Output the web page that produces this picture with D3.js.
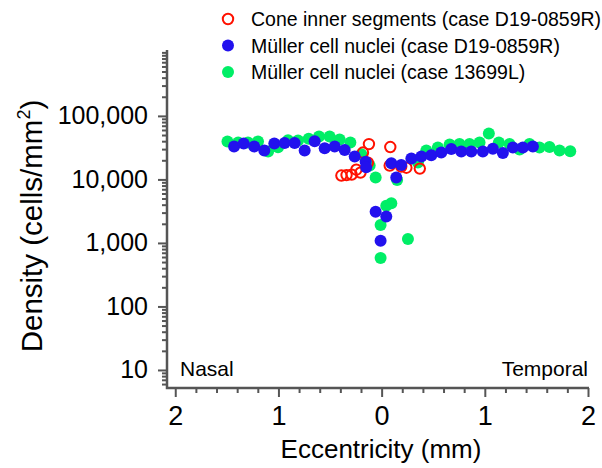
<!DOCTYPE html>
<html><head><meta charset="utf-8">
<script src="https://cdn.jsdelivr.net/npm/d3@7"></script>
<style>body{margin:0;background:#fff}svg{display:block;font-family:"Liberation Sans",Arial,sans-serif}</style>
</head><body>
<svg id="c" width="602" height="468"></svg>
<script>
// Eccentricity (mm): negative = nasal, positive = temporal
const coneEcc = [-0.39,-0.34,-0.29,-0.245,-0.205,-0.181,-0.133,-0.123,0.078,0.084,0.19,0.24,0.37];
const coneDen = [11500,11700,11900,14200,12800,26500,18400,36000,16500,32300,15900,15300,14800];

const mullerDEcc = [-1.43,-1.337,-1.235,-1.137,-1.04,-0.94,-0.843,-0.746,-0.649,-0.552,-0.455,-0.358,-0.261,-0.155,-0.15,-0.058,-0.01,0.045,0.094,0.142,0.19,0.288,0.385,0.481,0.578,0.675,0.772,0.869,0.981,1.078,1.175,1.272,1.369,1.466];
const mullerDDen = [32900,36700,32900,28400,36700,37300,37300,28400,40000,31000,32900,29000,22900,19000,15500,3100,1080,2600,17900,10700,16800,21300,23000,24000,26500,30000,27400,27400,27400,30300,26000,31700,31700,32900];

const mullerLEcc = [-1.494,-1.39,-1.295,-1.198,-1.10,-1.004,-0.907,-0.81,-0.707,-0.607,-0.504,-0.407,-0.303,-0.197,-0.116,-0.058,-0.01,-0.01,0.045,0.094,0.15,0.255,0.352,0.433,0.545,0.659,0.755,0.852,0.949,1.039,1.136,1.24,1.337,1.433,1.53,1.627,1.724,1.828];
const mullerLDen = [39500,38000,38000,39500,27400,32000,41500,40900,43500,47300,47300,42500,38000,25000,16500,10700,1915,578,3860,4200,9800,1150,18400,28400,31700,35400,36000,36000,38000,52800,38000,36000,29500,36000,31700,32300,28400,27800];

const yTickVals = [10,100,1000,10000,100000];
const xTickVals = [-2,-1,0,1,2];
const legendLabels = ["Cone inner segments (case D19-0859R)","Müller cell nuclei (case D19-0859R)","Müller cell nuclei (case 13699L)"];

const svg = d3.select("#c");
const x = d3.scaleLinear().domain([-2.08,2]).range([167,588]);
const y = d3.scaleLog().domain([5.2,1.09e6]).range([388,50]);
const axisCol = "#555";
const ff = "Liberation Sans, Arial, sans-serif";

// y axis minor ticks
const minorY = [];
for (let d=1; d<=1e5; d*=10) for (let k=2;k<=9;k++){ const v=k*d; if (v>=5.2 && v<=1.09e6) minorY.push(v); }
minorY.push(1e6);
const yMinor = d3.axisLeft(y).tickValues(minorY).tickSize(5).tickFormat("");
const yMajor = d3.axisLeft(y).tickValues(yTickVals).tickSize(9).tickFormat(d3.format(","));
const gy1 = svg.append("g").attr("transform","translate(167,0)").call(yMinor);
const gy2 = svg.append("g").attr("transform","translate(167,0)").call(yMajor);
[gy1,gy2].forEach(g=>{g.select(".domain").remove(); g.selectAll("line").attr("stroke",axisCol).attr("stroke-width",2);});
gy2.selectAll("text").attr("font-size",25).attr("fill","#000").attr("x",-19).attr("font-family",ff);

// x axis
const minorX = d3.range(-2,2.001,0.2).map(v=>+v.toFixed(1)).filter(v=>Math.abs(v-Math.round(v))>1e-6);
const xMinor = d3.axisBottom(x).tickValues(minorX).tickSize(5).tickFormat("");
const xMajor = d3.axisBottom(x).tickValues(xTickVals).tickSize(9).tickFormat(d=>Math.abs(d));
const gx1 = svg.append("g").attr("transform","translate(0,388)").call(xMinor);
const gx2 = svg.append("g").attr("transform","translate(0,388)").call(xMajor);
[gx1,gx2].forEach(g=>{g.select(".domain").remove(); g.selectAll("line").attr("stroke",axisCol).attr("stroke-width",2);});
gx2.selectAll("text").attr("font-size",27).attr("fill","#000").attr("y",18).attr("font-family",ff);

// axis lines
svg.append("path").attr("d",`M167,50V388H589`).attr("fill","none").attr("stroke",axisCol).attr("stroke-width",2.5);

// axis titles
svg.append("text").attr("x",381).attr("y",458).attr("text-anchor","middle").attr("font-size",26).text("Eccentricity (mm)");
const yt = svg.append("text").attr("transform","translate(42,226) rotate(-90)").attr("text-anchor","middle").attr("font-size",29.5);
yt.append("tspan").text("Density (cells/mm");
yt.append("tspan").attr("font-size",18).attr("dy",-12).text("2");
yt.append("tspan").attr("dy",12).text(")");

svg.append("text").attr("x",180).attr("y",376).attr("font-size",21).text("Nasal");
svg.append("text").attr("x",588).attr("y",376).attr("text-anchor","end").attr("font-size",21).text("Temporal");

const r = 6;
const green = "#00ee66", blue = "#2211ee", red = "#ff1100";
svg.append("g").selectAll("circle").data(d3.zip(mullerLEcc,mullerLDen)).join("circle")
  .attr("cx",d=>x(d[0])).attr("cy",d=>y(d[1])).attr("r",r).attr("fill",green);
svg.append("g").selectAll("circle").data(d3.zip(coneEcc,coneDen)).join("circle")
  .attr("cx",d=>x(d[0])).attr("cy",d=>y(d[1])).attr("r",5.2).attr("fill","none").attr("stroke",red).attr("stroke-width",2);
svg.append("g").selectAll("circle").data(d3.zip(mullerDEcc,mullerDDen)).join("circle")
  .attr("cx",d=>x(d[0])).attr("cy",d=>y(d[1])).attr("r",r).attr("fill",blue);

// legend
const lg = svg.append("g");
legendLabels.forEach((t,i)=>{
  const cy = 19 + i*26.5;
  if (i===0) lg.append("circle").attr("cx",228).attr("cy",cy).attr("r",5.2).attr("fill","none").attr("stroke",red).attr("stroke-width",2);
  else lg.append("circle").attr("cx",228).attr("cy",cy).attr("r",6).attr("fill",i===1?blue:green);
  lg.append("text").attr("x",251).attr("y",cy+7).attr("font-size",19.5).text(t);
});
</script>
</body></html>
